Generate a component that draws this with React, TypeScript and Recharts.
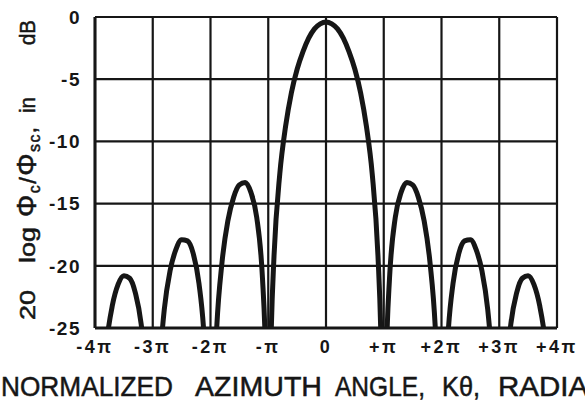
import { LineChart, Line, XAxis, YAxis, CartesianGrid } from 'recharts';

// normalized azimuth angle, in units of pi
const angle = [
  -4, -3.9, -3.8, -3.7, -3.6, -3.5, -3.4, -3.3, -3.2, -3.1,
  -3, -2.9, -2.8, -2.7, -2.6, -2.5, -2.4, -2.3, -2.2, -2.1,
  -2, -1.9, -1.8, -1.7, -1.6, -1.5, -1.4, -1.3, -1.2, -1.1,
  -1.05, -1, -0.95, -0.9, -0.8, -0.7, -0.6, -0.5, -0.4, -0.3, -0.2, -0.1,
  0,
  0.1, 0.2, 0.3, 0.4, 0.5, 0.6, 0.7, 0.8, 0.9, 0.95, 1, 1.05,
  1.1, 1.2, 1.3, 1.4, 1.5, 1.6, 1.7, 1.8, 1.9, 2,
  2.1, 2.2, 2.3, 2.4, 2.5, 2.6, 2.7, 2.8, 2.9, 3,
  3.1, 3.2, 3.3, 3.4, 3.5, 3.6, 3.7, 3.8, 3.9, 4,
];

// 20 log (phi_c / phi_sc), dB  (nulls dip below the -25 floor)
const gainDb = [
  -40, -32.0, -26.2, -23.2, -21.5, -20.8, -21.0, -22.2, -24.7, -30.0,
  -40, -29.4, -23.5, -20.4, -18.7, -17.9, -18.0, -19.0, -21.4, -26.6,
  -40, -25.7, -19.7, -16.4, -14.5, -13.5, -13.3, -14.1, -16.1, -21.0,
  -26.5, -40, -25.6, -19.2, -12.6, -8.8, -6.1, -4.2, -2.8, -1.7, -0.95, -0.55,
  -0.4,
  -0.55, -0.95, -1.7, -2.8, -4.2, -6.1, -8.8, -12.6, -19.2, -25.6, -40, -26.5,
  -21.0, -16.1, -14.1, -13.3, -13.5, -14.5, -16.4, -19.7, -25.7, -40,
  -26.6, -21.4, -19.0, -18.0, -17.9, -18.7, -20.4, -23.5, -29.4, -40,
  -30.0, -24.7, -22.2, -21.0, -20.8, -21.5, -23.2, -26.2, -32.0, -40,
];

const xTicks = [-4, -3, -2, -1, 0, 1, 2, 3, 4];
const xTickLabels = ['-4π', '-3π', '-2π', '-π', '0', '+π', '+2π', '+3π', '+4π'];
const yTicks = [0, -5, -10, -15, -20, -25];
const yTickLabels = ['0', '-5', '-10', '-15', '-20', '-25'];

const data = angle.map((a, i) => ({ angle: a, db: gainDb[i] }));

const INK = '#161616';
const FONT = '"Liberation Sans", Arial, sans-serif';

export default function App() {
  return (
    <div
      style={{
        position: 'absolute',
        left: 0,
        top: 0,
        width: 585,
        height: 403,
        background: '#fff',
        overflow: 'hidden',
      }}
    >
      <LineChart
        width={585}
        height={403}
        data={data}
        margin={{ top: 17, right: 28, bottom: 45, left: 0 }}
      >
        <CartesianGrid stroke={INK} strokeWidth={2.2} />
        <XAxis
          dataKey="angle"
          type="number"
          domain={[-4, 4]}
          ticks={xTicks}
          height={30}
          axisLine={{ stroke: INK, strokeWidth: 3 }}
          tickLine={false}
          tickSize={0}
          tickMargin={12}
          tickFormatter={(v: number) => xTickLabels[xTicks.indexOf(v)] ?? ''}
          tick={{ fontSize: 18, fill: INK, fontFamily: FONT, fontWeight: 700, letterSpacing: 2.5 }}
        />
        <YAxis
          type="number"
          domain={[-25, 0]}
          ticks={yTicks}
          allowDataOverflow
          width={95}
          axisLine={{ stroke: INK, strokeWidth: 3 }}
          tickLine={false}
          tickSize={0}
          tickMargin={14}
          tickFormatter={(v: number) => yTickLabels[yTicks.indexOf(v)] ?? ''}
          tick={{ fontSize: 19, fill: INK, fontFamily: FONT, fontWeight: 700, letterSpacing: 1.5 }}
        />
        <Line
          dataKey="db"
          type="monotone"
          stroke={INK}
          strokeWidth={5}
          strokeLinejoin="round"
          strokeLinecap="round"
          dot={false}
          activeDot={false}
          isAnimationActive={false}
        />
      </LineChart>

      <svg
        width={585}
        height={403}
        style={{ position: 'absolute', left: 0, top: 0, pointerEvents: 'none' }}
        fontFamily={FONT}
        fill={INK}
        stroke={INK}
        strokeWidth={0.5}
      >
        {/* y axis title, read bottom to top */}
        <g transform="rotate(-90)" fontSize={22}>
          <text x={-320} y={35} textLength={30} lengthAdjust="spacingAndGlyphs">20</text>
          <text x={-263} y={35} textLength={36} lengthAdjust="spacingAndGlyphs">log</text>
          <text x={-217} y={36} textLength={90} lengthAdjust="spacing">
            <tspan fontSize={28}>Φ</tspan>
            <tspan fontSize={16} dy={4}>c</tspan>
            <tspan fontSize={24} dy={-4}>/</tspan>
            <tspan fontSize={28}>Φ</tspan>
            <tspan fontSize={16} dy={4}>sc</tspan>
            <tspan dy={-4}>,</tspan>
          </text>
          <text x={-113} y={35} textLength={16} lengthAdjust="spacingAndGlyphs">in</text>
          <text x={-45} y={35} textLength={25} lengthAdjust="spacingAndGlyphs">dB</text>
        </g>
        {/* x axis title, cut at the right edge as in the source figure */}
        <g fontSize={28}>
          <text x={1} y={396} textLength={172} lengthAdjust="spacingAndGlyphs">NORMALIZED</text>
          <text x={195} y={396} textLength={127} lengthAdjust="spacingAndGlyphs">AZIMUTH</text>
          <text x={335} y={396} textLength={90} lengthAdjust="spacingAndGlyphs">ANGLE,</text>
          <text x={442} y={396} textLength={38} lengthAdjust="spacingAndGlyphs">Kθ,</text>
          <text x={498} y={396} textLength={131} lengthAdjust="spacingAndGlyphs">RADIANS</text>
        </g>
      </svg>
    </div>
  );
}
